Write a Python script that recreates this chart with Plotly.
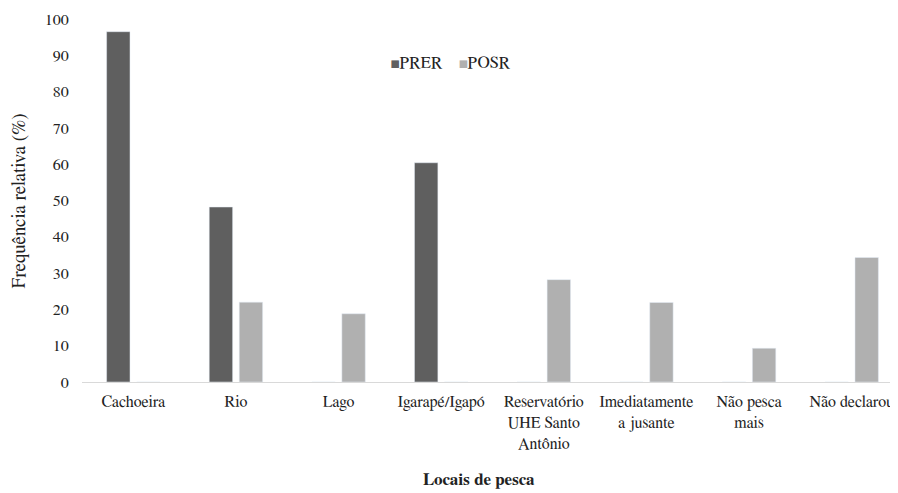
import plotly.graph_objects as go

categories = ["Cachoeira", "Rio", "Lago", "Igarapé/Igapó",
              "Reservatório<br>UHE Santo<br>Antônio", "Imediatamente<br>a jusante",
              "Não pesca<br>mais", "Não declarou"]
prer = [96.5, 48.2, 0, 60.4, 0, 0, 0, 0]
posr = [0, 22.0, 18.8, 0, 28.2, 21.9, 9.3, 34.3]
yticks = [0, 10, 20, 30, 40, 50, 60, 70, 80, 90, 100]
series_names = ["PRER", "POSR"]
series_colors = ["#5f5f5f", "#b0b0b0"]

font = "Nimbus Roman, FreeSerif, DejaVu Serif"

fig = go.Figure()
fig.add_trace(go.Bar(name=series_names[0], x=categories, y=prer, marker_color=series_colors[0]))
fig.add_trace(go.Bar(name=series_names[1], x=categories, y=posr, marker_color=series_colors[1]))

legend_text = "&nbsp;&nbsp;&nbsp;&nbsp;".join(
    f"<span style='color:{c}; font-size:11px'>■</span>{n}" for n, c in zip(series_names, series_colors))

fig.update_layout(
    width=898, height=493,
    margin=dict(l=74, r=3, t=11, b=119),
    plot_bgcolor="white", paper_bgcolor="white",
    font=dict(family=font, size=16, color="#222"),
    barmode="group", bargap=0.415, bargroupgap=0.22,
    showlegend=False,
    xaxis=dict(showline=True, linecolor="#d9d9d9", linewidth=1,
               ticks="outside", ticklen=5, tickcolor="rgba(0,0,0,0)",
               tickfont=dict(size=16, family=font), showgrid=False),
    yaxis=dict(range=[0, 100], tickvals=yticks, showgrid=False, zeroline=False,
               ticks="outside", ticklen=9, tickcolor="rgba(0,0,0,0)",
               tickfont=dict(size=16, family=font)),
    annotations=[
        dict(text="Frequência relativa (%)", textangle=-90, xref="paper", yref="paper",
             x=0, y=0.5, xanchor="center", yanchor="middle", xshift=-63, yshift=-1,
             showarrow=False, font=dict(size=19, family=font)),
        dict(text="<b>Locais de pesca</b>", xref="paper", yref="paper",
             x=0.484, y=0, xanchor="center", yanchor="middle", yshift=-98, showarrow=False,
             font=dict(size=17, family=font)),
        dict(text=legend_text, xref="paper", yref="paper", x=0.45, y=0.8815,
             xanchor="center", yanchor="middle", showarrow=False,
             font=dict(size=17, family=font)),
    ],
)

fig.write_html("out.html")
